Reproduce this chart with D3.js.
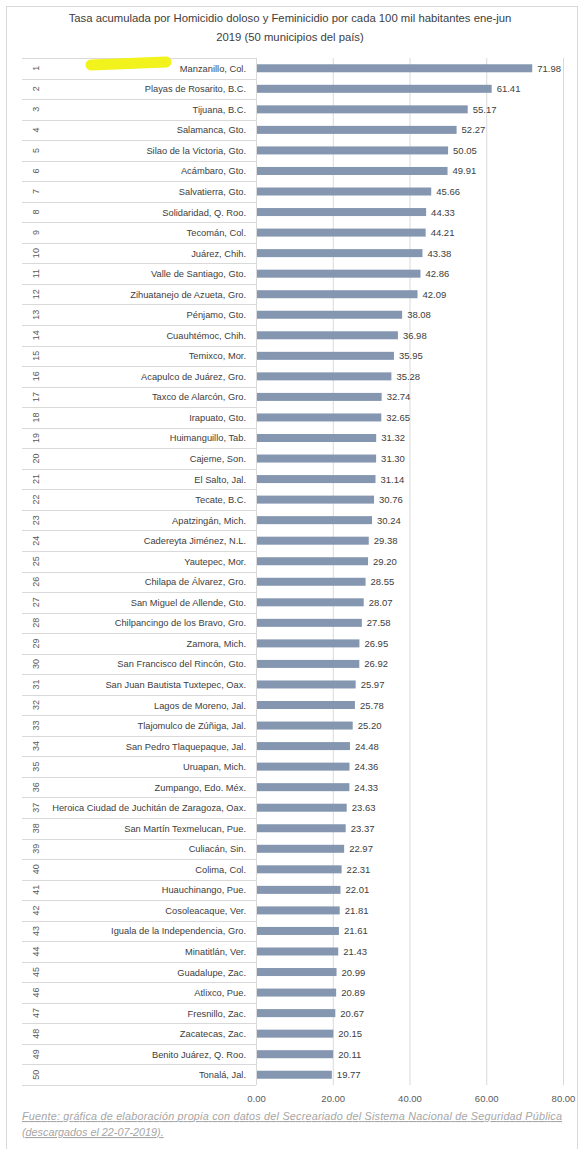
<!DOCTYPE html>
<html><head><meta charset="utf-8">
<script src="https://cdn.jsdelivr.net/npm/d3@7"></script>
<style>
body{margin:0;background:#fff;}
svg{display:block;font-family:"Liberation Sans",Arial,sans-serif;}
</style></head>
<body><div id="chart"></div>
<script>
const titleLines = ["Tasa acumulada por Homicidio doloso y Feminicidio por cada 100 mil habitantes ene-jun", "2019 (50 municipios del país)"];
const ranks = d3.range(1, 51);
const municipios = ["Manzanillo, Col.","Playas de Rosarito, B.C.","Tijuana, B.C.","Salamanca, Gto.","Silao de la Victoria, Gto.","Acámbaro, Gto.","Salvatierra, Gto.","Solidaridad, Q. Roo.","Tecomán, Col.","Juárez, Chih.","Valle de Santiago, Gto.","Zihuatanejo de Azueta, Gro.","Pénjamo, Gto.","Cuauhtémoc, Chih.","Temixco, Mor.","Acapulco de Juárez, Gro.","Taxco de Alarcón, Gro.","Irapuato, Gto.","Huimanguillo, Tab.","Cajeme, Son.","El Salto, Jal.","Tecate, B.C.","Apatzingán, Mich.","Cadereyta Jiménez, N.L.","Yautepec, Mor.","Chilapa de Álvarez, Gro.","San Miguel de Allende, Gto.","Chilpancingo de los Bravo, Gro.","Zamora, Mich.","San Francisco del Rincón, Gto.","San Juan Bautista Tuxtepec, Oax.","Lagos de Moreno, Jal.","Tlajomulco de Zúñiga, Jal.","San Pedro Tlaquepaque, Jal.","Uruapan, Mich.","Zumpango, Edo. Méx.","Heroica Ciudad de Juchitán de Zaragoza, Oax.","San Martín Texmelucan, Pue.","Culiacán, Sin.","Colima, Col.","Huauchinango, Pue.","Cosoleacaque, Ver.","Iguala de la Independencia, Gro.","Minatitlán, Ver.","Guadalupe, Zac.","Atlixco, Pue.","Fresnillo, Zac.","Zacatecas, Zac.","Benito Juárez, Q. Roo.","Tonalá, Jal."];
const tasas = [71.98,61.41,55.17,52.27,50.05,49.91,45.66,44.33,44.21,43.38,42.86,42.09,38.08,36.98,35.95,35.28,32.74,32.65,31.32,31.30,31.14,30.76,30.24,29.38,29.20,28.55,28.07,27.58,26.95,26.92,25.97,25.78,25.20,24.48,24.36,24.33,23.63,23.37,22.97,22.31,22.01,21.81,21.61,21.43,20.99,20.89,20.67,20.15,20.11,19.77];
const xTicks = [0,20,40,60,80];
const fuente = ["Fuente: gráfica de elaboración propia con datos del Secreariado del Sistema Nacional de Seguridad Pública", "(descargados el 22-07-2019)."];

(function(){
const W = 582, H = 1149;
const svg = d3.select("#chart").append("svg").attr("width", W).attr("height", H);

svg.append("rect").attr("x",6.5).attr("y",6.5).attr("width",571).attr("height",H-6)
  .attr("fill","none").attr("stroke","#d9d9d9");

svg.append("g").selectAll("text").data(titleLines).join("text")
  .attr("x", 290).attr("y", (d,i)=>22 + i*19).attr("text-anchor","middle")
  .attr("font-size", 11.3).attr("fill","#404040").text(d=>d);

const plotTop = 58, plotBottom = 1085, tableLeft = 22;
const x = d3.scaleLinear().domain([0,80]).range([256,563]);
const y = d3.scaleBand().domain(ranks).range([plotTop,plotBottom]);

svg.append("g").selectAll("line").data(xTicks).join("line")
  .attr("x1",d=>x(d)+0.5).attr("x2",d=>x(d)+0.5).attr("y1",plotTop).attr("y2",plotBottom)
  .attr("stroke","#d9d9d9");

const bounds = ranks.map(r=>y(r)).concat([plotBottom]);
svg.append("g").selectAll("line").data(bounds).join("line")
  .attr("x1",tableLeft).attr("x2",x(0)).attr("y1",d=>Math.round(d)+0.5).attr("y2",d=>Math.round(d)+0.5)
  .attr("stroke","#d9d9d9");

svg.append("line").attr("x1",91).attr("y1",65).attr("x2",166).attr("y2",62)
  .attr("stroke","#f2f21c").attr("stroke-width",11).attr("stroke-linecap","round");

const rows = svg.append("g").selectAll("g").data(ranks).join("g");
const bh = 8;
rows.append("rect")
  .attr("x", x(0)+1).attr("y", r=>y(r)+(y.bandwidth()-bh)/2)
  .attr("width", r=>x(tasas[r-1])-x(0)-1).attr("height", bh)
  .attr("fill","#8496b0");
rows.append("text")
  .attr("x", r=>x(tasas[r-1])+5).attr("y", r=>y(r)+y.bandwidth()/2+3.5)
  .attr("font-size",9.5).attr("fill","#404040").text(r=>d3.format(".2f")(tasas[r-1]));
rows.append("text")
  .attr("x", 246).attr("y", r=>y(r)+y.bandwidth()/2+3.5).attr("text-anchor","end")
  .attr("font-size",9.3).attr("fill","#404040").text(r=>municipios[r-1]);
rows.append("text")
  .attr("transform", r=>`translate(${36},${y(r)+y.bandwidth()/2}) rotate(-90)`)
  .attr("text-anchor","middle").attr("dy","0.35em")
  .attr("font-size",9).attr("fill","#595959").text(r=>r);

const ax = svg.append("g").attr("transform",`translate(0,${plotBottom})`)
  .call(d3.axisBottom(x).tickValues(xTicks).tickFormat(d3.format(".2f")).tickSize(0).tickPadding(10));
ax.select(".domain").remove();
ax.selectAll("text").attr("font-size",9.5).attr("fill","#595959").attr("font-family","Liberation Sans, Arial, sans-serif");

svg.append("g").selectAll("text").data(fuente).join("text")
  .attr("x",22).attr("y",(d,i)=>1120+i*16).attr("font-size",10.8).attr("font-style","italic")
  .attr("text-decoration","underline").attr("fill","#a6a6a6")
  .attr("textLength",(d,i)=>i===0?540:null).attr("lengthAdjust","spacing")
  .text(d=>d);
})();
</script></body></html>
